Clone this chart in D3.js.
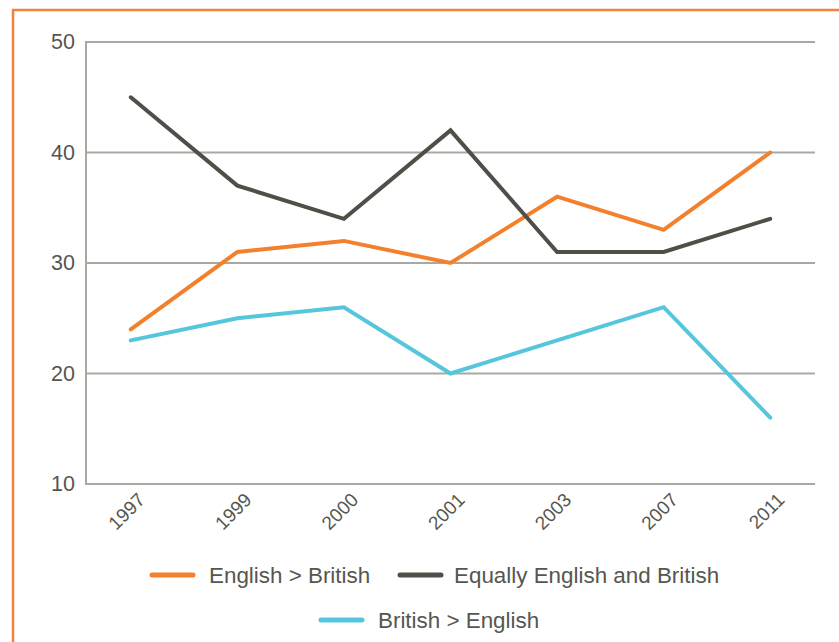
<!DOCTYPE html>
<html><head><meta charset="utf-8">
<script src="https://cdn.jsdelivr.net/npm/d3@7"></script>
<style>html,body{margin:0;padding:0;background:#fff;overflow:hidden}</style>
</head><body>
<svg id="c" width="839" height="642"></svg>
<script>
const years = ["1997","1999","2000","2001","2003","2007","2011"];
const englishMore = [24,31,32,30,36,33,40];
const equally = [45,37,34,42,31,31,34];
const britishMore = [23,25,26,20,23,26,16];
const yTicks = [10,20,30,40,50];
const seriesNames = ["English > British","Equally English and British","British > English"];
const seriesColors = ["#f2802c","#4f4f47","#56c6dc"];

const svg = d3.select("#c");
const font = "'Liberation Sans', Arial, sans-serif";
const textCol = "#56564f";
const gridCol = "#a9a9a1";

// frame
svg.append("rect").attr("x",13).attr("y",10).attr("width",900).attr("height",700)
  .attr("fill","none").attr("stroke","#f47f3e").attr("stroke-width",2.5);

const x = d3.scalePoint().domain(years).range([86,815]).padding(0.42);
const y = d3.scaleLinear().domain([10,50]).range([484,42]);

// grid
svg.append("g").selectAll("line").data(yTicks).join("line")
  .attr("x1",86).attr("x2",815).attr("y1",d=>y(d)).attr("y2",d=>y(d))
  .attr("stroke",gridCol).attr("stroke-width",2);
svg.append("line").attr("x1",86).attr("x2",86).attr("y1",y(50)-1).attr("y2",y(10)+1)
  .attr("stroke",gridCol).attr("stroke-width",2);

// y axis labels
const ya = svg.append("g").attr("transform","translate(86,0)")
  .call(d3.axisLeft(y).tickValues(yTicks).tickSize(0).tickPadding(11));
ya.select(".domain").remove();
ya.selectAll("text").attr("font-family",font).attr("font-size",21.5).attr("fill",textCol);

// x axis labels
const xa = svg.append("g").attr("transform","translate(0,484)")
  .call(d3.axisBottom(x).tickSize(0));
xa.select(".domain").remove();
xa.selectAll("text").attr("font-family",font).attr("font-size",19).attr("fill",textCol)
  .attr("text-anchor","end").attr("dy",0).attr("y",0)
  .attr("transform","translate(15,17) rotate(-45)");

const data = [englishMore, equally, britishMore];
const line = d3.line().x((d,i)=>x(years[i])).y(d=>y(d));
svg.append("g").selectAll("path").data(data).join("path")
  .attr("d",line).attr("fill","none")
  .attr("stroke",(d,i)=>seriesColors[i]).attr("stroke-width",4)
  .attr("stroke-linejoin","miter").attr("stroke-linecap","round");

// legend
const legendPos = [[152,575],[400,575],[321,620]];
const lg = svg.append("g").selectAll("g").data(seriesNames).join("g")
  .attr("transform",(d,i)=>`translate(${legendPos[i][0]},${legendPos[i][1]})`);
lg.append("line").attr("x1",0).attr("x2",41).attr("y1",0).attr("y2",0)
  .attr("stroke",(d,i)=>seriesColors[i]).attr("stroke-width",5).attr("stroke-linecap","round");
lg.append("text").attr("x",(d,i)=> i===1?54:57).attr("y",7.5).text(d=>d)
  .attr("font-family",font).attr("font-size",22.4).attr("fill",textCol);
</script>
</body></html>
